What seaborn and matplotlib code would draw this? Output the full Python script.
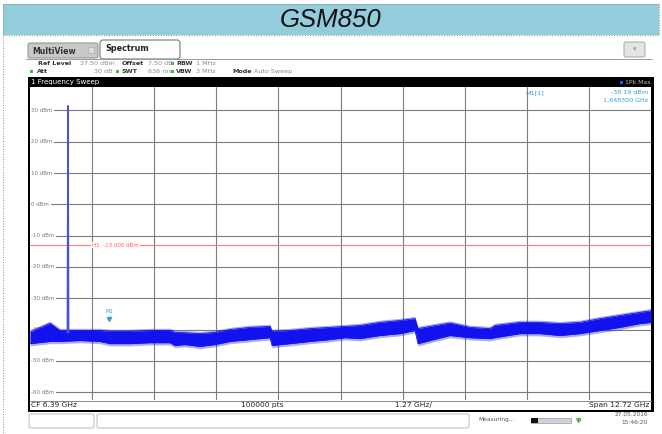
import matplotlib
matplotlib.use("Agg")
import matplotlib.pyplot as plt
import seaborn as sns
import pandas as pd
from matplotlib.patches import Rectangle, FancyBboxPatch

# ---------------- data ----------------
freq_ghz = [0.03, 0.44, 0.645, 1.054, 1.464, 1.669, 2.078, 2.488, 2.898, 3.0,
            3.205, 3.512, 3.819, 4.127, 4.536, 4.946, 4.987, 5.356, 5.765, 6.175,
            6.482, 6.789, 7.199, 7.609, 7.916, 7.977, 8.223, 8.633, 9.042, 9.452,
            9.55, 10.067, 10.476, 10.886, 11.296, 11.705, 12.115, 12.525, 12.75]
upper_dbm = [-40.8, -38.0, -40.3, -40.3, -40.3, -40.6, -40.6, -40.3, -40.3, -40.9,
             -41.0, -41.3, -40.9, -40.0, -39.3, -39.0, -40.6, -40.3, -39.7, -39.3,
             -39.0, -38.7, -37.7, -37.1, -36.5, -39.7, -39.0, -37.9, -39.3, -39.7,
             -38.7, -37.7, -37.7, -38.1, -37.7, -36.5, -35.5, -34.5, -34.0]
lower_dbm = [-44.5, -43.8, -43.8, -43.5, -43.8, -44.5, -44.5, -44.2, -44.2, -45.1,
             -44.8, -45.4, -44.8, -43.8, -43.2, -42.6, -45.1, -44.5, -43.8, -43.2,
             -42.6, -42.9, -41.9, -41.3, -40.3, -44.5, -43.5, -41.9, -42.6, -42.9,
             -42.6, -41.3, -41.3, -41.9, -41.3, -40.3, -39.3, -38.1, -37.7]
spike_freq_ghz = [0.795, 0.808, 0.821]
spike_dbm = [-41.0, 31.5, -41.0]
level_ticks = [30, 20, 10, 0, -10, -20, -30, -40, -50, -60]
limit_dbm = -13.0
marker_freq_ghz = 1.6483
marker_dbm = -38.19
f_start, f_stop = 0.03, 12.75
ref_level, range_db = 37.5, 100.0

# ---------------- style ----------------
sns.set_style("white")
plt.rcParams['font.family'] = ['DejaVu Sans']

W, H = 662, 434
fig = plt.figure(figsize=(W / 100, H / 100), dpi=100)


def rect(x0, y0, x1, y1):
    return [x0 / W, 1 - y1 / H, (x1 - x0) / W, (y1 - y0) / H]


deco = fig.add_axes([0, 0, 1, 1], zorder=0)
deco.set_xlim(0, W)
deco.set_ylim(H, 0)
deco.axis('off')

# title band
deco.add_patch(Rectangle((3, 4), 656, 31, facecolor='#93CDDC', edgecolor='none'))
deco.plot([3, 659], [4, 4], ls=':', color='#7a8a90', lw=0.7)
deco.plot([3, 659], [35, 35], ls=':', color='#7a8a90', lw=0.7)
deco.plot([3, 3], [4, 434], ls=':', color='#909090', lw=0.7)
deco.plot([659, 659], [4, 35], ls=':', color='#7a8a90', lw=0.7)
deco.text(331, 20, 'GSM850', ha='center', va='center', fontsize=18.5,
          style='italic', family=['Liberation Sans', 'DejaVu Sans'], color='#111111')

# tabs
deco.plot([26, 652], [58.5, 58.5], color='#9a9a9a', lw=0.7)
deco.add_patch(FancyBboxPatch((28, 43), 70, 15, boxstyle='round,pad=0,rounding_size=2',
                              facecolor='#c9c9c9', edgecolor='#8c8c8c', lw=0.7))
deco.text(32, 51, 'MultiView', fontsize=5.6, fontweight='bold', va='center', color='#333333')
deco.add_patch(Rectangle((88, 47), 6, 6, facecolor='#dddddd', edgecolor='#aaaaaa', lw=0.5))
deco.add_patch(FancyBboxPatch((100, 40), 80, 19, boxstyle='round,pad=0,rounding_size=3',
                              facecolor='white', edgecolor='#777777', lw=0.8))
deco.text(105, 48.5, 'Spectrum', fontsize=5.8, fontweight='bold', va='center', color='#222222')
deco.add_patch(FancyBboxPatch((624, 42), 21, 15, boxstyle='round,pad=0,rounding_size=2',
                              facecolor='#e4e4e4', edgecolor='#a8a8a8', lw=0.7))
deco.text(634.5, 49.5, '▾', fontsize=5, ha='center', va='center', color='#999999')

# info lines
fs_i = 4.6
lab, val, dot = '#333333', '#8a8a8a', '#3dbb3d'
y1, y2 = 63.5, 71.5
for x, t, c, w, ha in [(38, 'Ref Level', lab, 'bold', 'left'), (80, '37.50 dBm', val, 'normal', 'left'),
                       (122, 'Offset', lab, 'bold', 'left'), (148, '7.50 dB', val, 'normal', 'left'),
                       (176, 'RBW', lab, 'bold', 'left'), (196, '1 MHz', val, 'normal', 'left')]:
    deco.text(x, y1, t, fontsize=fs_i, color=c, fontweight=w, va='center', ha=ha)
for x, t, c, w, ha in [(37, 'Att', lab, 'bold', 'left'), (113, '30 dB', val, 'normal', 'right'),
                       (122, 'SWT', lab, 'bold', 'left'), (148, '636 ms', val, 'normal', 'left'),
                       (176, 'VBW', lab, 'bold', 'left'), (196, '3 MHz', val, 'normal', 'left'),
                       (232, 'Mode', lab, 'bold', 'left'), (254, 'Auto Sweep', val, 'normal', 'left')]:
    deco.text(x, y2, t, fontsize=fs_i, color=c, fontweight=w, va='center', ha=ha)
for x, y in [(172, y1), (31, y2), (117.5, y2), (172, y2)]:
    deco.add_patch(Rectangle((x - 1.5, y - 1.5), 3, 3, facecolor=dot, edgecolor='none'))

# black header bar
deco.add_patch(Rectangle((28, 77), 625, 10, facecolor='black', edgecolor='none'))
deco.text(31, 82, '1 Frequency Sweep', fontsize=5, color='white', va='center')
deco.add_patch(Rectangle((620, 80.5), 3, 3, facecolor='#3050ff', edgecolor='none'))
deco.text(625, 82, '1Pk Max', fontsize=4.4, color='#bbbbbb', va='center')

# frame
deco.add_patch(Rectangle((27.5, 77), 2.5, 335, facecolor='black', edgecolor='none'))
deco.add_patch(Rectangle((651, 77), 2.5, 335, facecolor='black', edgecolor='none'))
deco.add_patch(Rectangle((27.5, 409.5), 626, 2.5, facecolor='black', edgecolor='none'))
deco.plot([30, 651], [400.5, 400.5], color='#8a8a8a', lw=0.7)

# bottom text row
fs_b = 5.4
deco.text(31, 405, 'CF 6.39 GHz', fontsize=fs_b, va='center', color='#222222')
deco.text(262, 405, '100000 pts', fontsize=fs_b, va='center', ha='center', color='#222222')
deco.text(413, 405, '1.27 GHz/', fontsize=fs_b, va='center', ha='center', color='#222222')
deco.text(649, 405, 'Span 12.72 GHz', fontsize=fs_b, va='center', ha='right', color='#222222')

# status bar
deco.add_patch(FancyBboxPatch((29, 414), 65, 14, boxstyle='round,pad=0,rounding_size=2',
                              facecolor='white', edgecolor='#b8b8b8', lw=0.7))
deco.add_patch(FancyBboxPatch((97, 414), 372, 14, boxstyle='round,pad=0,rounding_size=2',
                              facecolor='white', edgecolor='#b8b8b8', lw=0.7))
deco.text(478, 420, 'Measuring...', fontsize=4.2, va='center', color='#555555')
deco.add_patch(Rectangle((531, 417.5), 40, 5, facecolor='#d0d0e0', edgecolor='#888888', lw=0.4))
deco.add_patch(Rectangle((531, 417.5), 7, 5, facecolor='#111111', edgecolor='none'))
deco.text(578, 420, 'ψ', fontsize=5, va='center', ha='center', color='#5a9a30', fontweight='bold')
deco.text(648, 414.5, '27.05.2016', fontsize=4.2, va='center', ha='right', color='#555555')
deco.text(648, 422.5, '15:46:20', fontsize=4.2, va='center', ha='right', color='#555555')

# ---------------- spectrum plot ----------------
ax = fig.add_axes(rect(30, 87, 651, 400), zorder=1)
ax.set_facecolor('white')
ax.set_xlim(f_start, f_stop)
ax.set_ylim(ref_level - range_db, ref_level)
for s in ax.spines.values():
    s.set_visible(False)

div = (f_stop - f_start) / 10
for k in range(1, 10):
    ax.axvline(f_start + k * div, color='#7d7d7d', lw=0.8, zorder=1)
for v in level_ticks:
    ax.axhline(v, color='#7d7d7d', lw=0.8, zorder=1)
    ax.text(f_start + 0.03, v, f'{v} dBm', fontsize=4.0, color='#777777', va='center',
            ha='left', zorder=2,
            bbox=dict(facecolor='white', edgecolor='none', pad=1.0))

# limit line
ax.axhline(limit_dbm, color='#ff7a7a', lw=0.8, zorder=3)
ax.text(f_start + div * 1.0, limit_dbm, 'H1  -13.000 dBm', fontsize=4.0, color='#ff5a5a',
        va='center', ha='left', zorder=4,
        bbox=dict(facecolor='white', edgecolor='none', pad=0.5))

# trace band (max-hold envelope)
blue = '#1212ee'
ax.fill_between(freq_ghz, [v - 0.7 for v in lower_dbm], [v + 0.7 for v in upper_dbm],
                color=blue, alpha=0.35, lw=0, zorder=5)
ax.fill_between(freq_ghz, lower_dbm, upper_dbm, color=blue, lw=0, zorder=5)
env = pd.DataFrame({
    'freq': freq_ghz + freq_ghz,
    'dbm': upper_dbm + lower_dbm,
    'edge': ['upper'] * len(freq_ghz) + ['lower'] * len(freq_ghz),
})
sns.lineplot(data=env, x='freq', y='dbm', units='edge', estimator=None, color=blue,
             lw=0.6, ax=ax, zorder=5, legend=False, sort=False)
spike = pd.DataFrame({'freq': spike_freq_ghz, 'dbm': spike_dbm})
sns.lineplot(data=spike, x='freq', y='dbm', color='#4255d6', lw=1.1, ax=ax, zorder=6,
             estimator=None, sort=False)
ax.set_xticks([])
ax.set_yticks([])
ax.set_xlabel('')
ax.set_ylabel('')

# marker M1
mcol = '#3a9ee0'
ax.plot([marker_freq_ghz], [-36.6], marker='v', color=mcol, ms=3, zorder=7, lw=0)
ax.text(marker_freq_ghz, -34.3, 'M1', fontsize=3.8, color=mcol, ha='center', va='center', zorder=7)

# marker readout (overlay above the plot)
over = fig.add_axes([0, 0, 1, 1], zorder=2)
over.set_xlim(0, W)
over.set_ylim(H, 0)
over.axis('off')
over.patch.set_alpha(0)
over.text(525, 93, 'M1[1]', fontsize=4.6, color=mcol, va='center')
over.text(648, 93, f'{marker_dbm:.2f} dBm', fontsize=4.6, color=mcol, va='center', ha='right')
over.text(648, 101, f'{marker_freq_ghz:.6f} GHz', fontsize=4.6, color=mcol, va='center', ha='right')

fig.savefig('out.png', dpi=100)
